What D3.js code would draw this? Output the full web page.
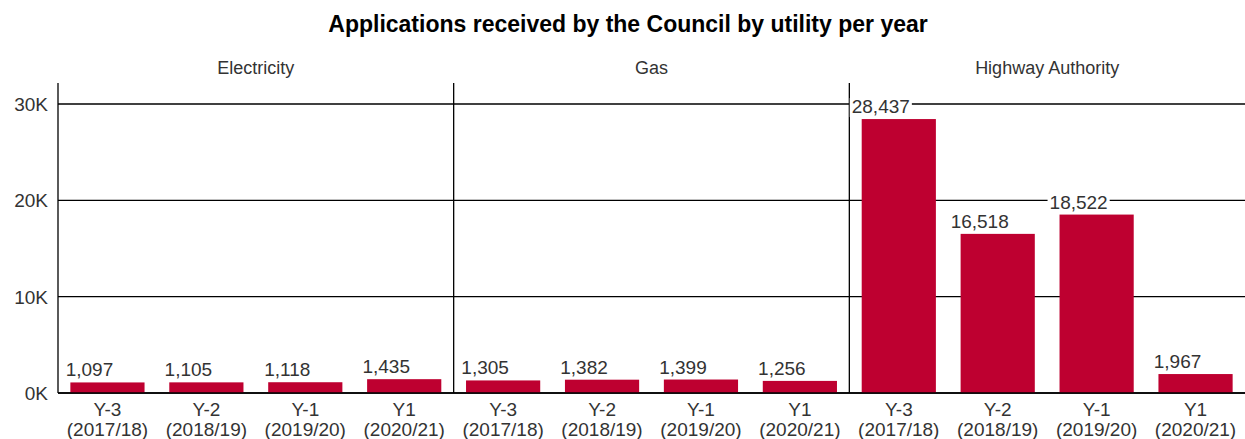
<!DOCTYPE html>
<html>
<head>
<meta charset="utf-8">
<script src="https://cdn.jsdelivr.net/npm/d3@7"></script>
<style>
  body { margin: 0; background: #fff; }
  text { font-family: "Liberation Sans", Arial, sans-serif; }
</style>
</head>
<body>
<figure id="chart" style="margin:0"></figure>
<script>
// data
var utilities = ["Electricity", "Gas", "Highway Authority"];
var years = ["Y-3|(2017/18)", "Y-2|(2018/19)", "Y-1|(2019/20)", "Y1|(2020/21)"];
var electricity = [1097, 1105, 1118, 1435];
var gas = [1305, 1382, 1399, 1256];
var highway = [28437, 16518, 18522, 1967];
var yTicks = [0, 10000, 20000, 30000];

var seriesByUtility = [electricity, gas, highway];

var W = 1245, H = 439;
var margin = {top: 84, right: 0, bottom: 46, left: 58};
var height = H - margin.top - margin.bottom;

var svg = d3.select("figure#chart")
  .append("svg")
  .attr("width", W)
  .attr("height", H);

// title
svg.append("text")
  .attr("x", 628)
  .attr("y", 32)
  .attr("text-anchor", "middle")
  .style("font-size", "23px")
  .style("font-weight", "bold")
  .style("fill", "#000")
  .text("Applications received by the Council by utility per year");

// panel scale
var panel = d3.scaleBand()
  .domain(utilities)
  .range([margin.left, W - margin.right])
  .padding(0);

var y = d3.scaleLinear()
  .domain([0, 30000])
  .range([margin.top + height, 104]);

// gridlines
svg.append("g")
  .selectAll("line")
  .data(yTicks)
  .enter()
  .append("line")
  .attr("x1", margin.left)
  .attr("x2", W)
  .attr("y1", d => y(d))
  .attr("y2", d => y(d))
  .attr("stroke", "#000")
  .attr("stroke-width", 1.3);

// y labels
svg.append("g")
  .selectAll("text")
  .data(yTicks)
  .enter()
  .append("text")
  .attr("x", 48)
  .attr("y", d => y(d) + 7)
  .attr("text-anchor", "end")
  .style("font-size", "19px")
  .style("fill", "#333")
  .text(d => (d / 1000) + "K");

// panel dividers
svg.append("g")
  .selectAll("line")
  .data(utilities)
  .enter()
  .append("line")
  .attr("x1", d => panel(d))
  .attr("x2", d => panel(d))
  .attr("y1", margin.top - 1)
  .attr("y2", margin.top + height)
  .attr("stroke", "#000")
  .attr("stroke-width", 1.3);

utilities.forEach(function(u, i) {
  var x = d3.scaleBand()
    .domain(years)
    .range([panel(u), panel(u) + panel.bandwidth()])
    .paddingInner(0.25)
    .paddingOuter(0.125);

  var g = svg.append("g");

  // panel header
  g.append("text")
    .attr("x", panel(u) + panel.bandwidth() / 2)
    .attr("y", 74)
    .attr("text-anchor", "middle")
    .style("font-size", "18px")
    .style("fill", "#333")
    .text(u);

  var data = years.map((yr, j) => ({year: yr, value: seriesByUtility[i][j]}));

  g.selectAll("rect")
    .data(data)
    .enter()
    .append("rect")
    .attr("x", d => x(d.year))
    .attr("y", d => y(d.value))
    .attr("width", x.bandwidth())
    .attr("height", d => y(0) - y(d.value))
    .style("fill", "#be0030");

  // value labels on white boxes
  var lab = g.selectAll("g.val")
    .data(data)
    .enter()
    .append("g")
    .attr("class", "val");
  var bg = lab.append("rect").style("fill", "#fff");
  lab.append("text")
    .attr("text-anchor", "middle")
    .attr("x", d => x(d.year) + x.bandwidth() / 2 - 18)
    .attr("y", d => y(d.value) - 6)
    .style("font-size", "19px")
    .style("fill", "#333")
    .text(d => d3.format(",")(d.value));
  lab.each(function() {
    var b = d3.select(this).select("text").node().getBBox();
    d3.select(this).select("rect")
      .attr("x", b.x - 2)
      .attr("y", b.y + 2)
      .attr("width", b.width + 4)
      .attr("height", b.height - 2);
  });

  // x labels, two lines
  var xl = g.selectAll("text.xl")
    .data(data)
    .enter()
    .append("text")
    .attr("class", "xl")
    .attr("text-anchor", "middle")
    .style("font-size", "19px")
    .style("fill", "#333");
  xl.append("tspan")
    .attr("x", d => x(d.year) + x.bandwidth() / 2)
    .attr("y", 416)
    .text(d => d.year.split("|")[0]);
  xl.append("tspan")
    .attr("x", d => x(d.year) + x.bandwidth() / 2)
    .attr("y", 436)
    .text(d => d.year.split("|")[1]);
});

// baseline on top of bars
svg.append("line")
  .attr("x1", margin.left)
  .attr("x2", W)
  .attr("y1", y(0))
  .attr("y2", y(0))
  .attr("stroke", "#000")
  .attr("stroke-width", 1.3);
</script>
</body>
</html>
